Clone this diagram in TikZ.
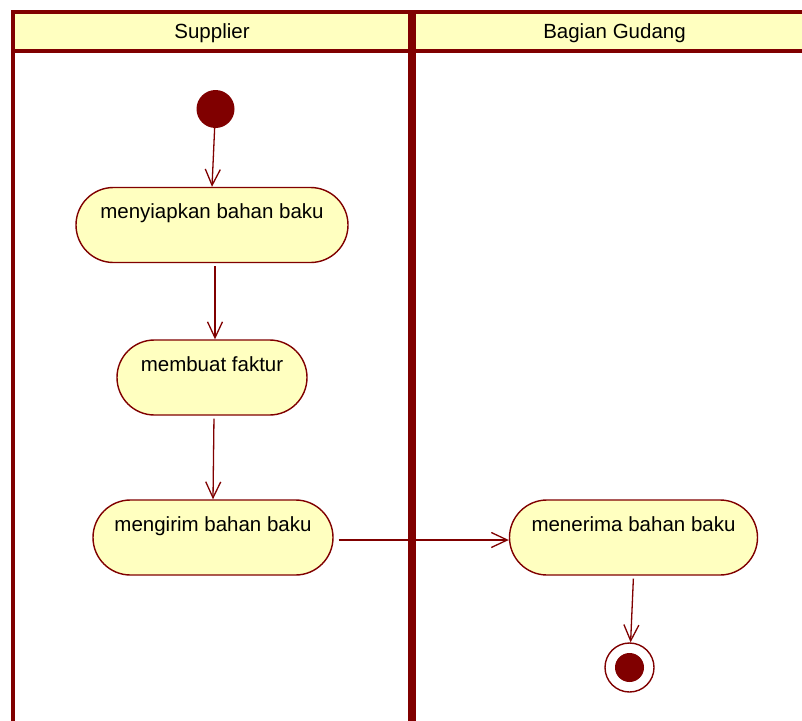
\documentclass[tikz,border=0pt]{standalone}
\usepackage{fontspec}
\setmainfont{Liberation Sans}
\usetikzlibrary{arrows.meta}
\definecolor{umlred}{HTML}{800000}
\definecolor{umlfill}{HTML}{FFFFC0}
\tikzset{
  lane/.style={draw=umlred, line width=4pt},
  lanehead/.style={draw=umlred, fill=umlfill, line width=4pt},
  headtext/.style={font=\fontsize{20.5}{24}\selectfont, inner sep=0pt},
  act/.style={draw=umlred, fill=umlfill, line width=1.4pt, rounded corners=37.5pt,
    inner xsep=0pt, inner ysep=0pt, text height=31pt, text depth=44pt,
    font=\fontsize{20.5}{24}\selectfont},
  startnode/.style={circle, fill=umlred, draw=none, minimum size=38pt, inner sep=0pt},
  endouter/.style={circle, draw=umlred, fill=white, line width=1.4pt, minimum size=49pt, inner sep=0pt},
  endinner/.style={circle, fill=umlred, minimum size=29pt, inner sep=0pt},
  flow/.style={draw=umlred, line width=1.3pt, -{Straight Barb[length=16pt,width=15pt,line width=1.3pt]}}
}
\begin{document}
\begin{tikzpicture}[x=1pt,y=-1pt]
\useasboundingbox (0,0) rectangle (802,720);
\clip (0,0) rectangle (802,720);
\fill[white] (0,0) rectangle (802,720);
% lanes
\draw[lane] (13,51.3) -- (13,730);
\draw[lane] (409.5,51.3) -- (409.5,730);
\draw[lane] (413.8,51.3) -- (413.8,730);
\draw[lanehead] (13,11.5) rectangle (409.5,51.3);
\draw[lanehead] (413.8,11.5) rectangle (830,51.3);
\node[headtext] (h1) at (212,33) {Supplier};
\node[headtext] (h2) at (614.5,33) {Bagian Gudang};
% nodes
\node[startnode] (start) at (215.5,109) {};
\node[act, minimum width=272pt] (a1) at (212,225) {menyiapkan bahan baku};
\node[act, minimum width=190pt] (a2) at (212,377.5) {membuat faktur};
\node[act, minimum width=240pt] (a3) at (213,537.5) {mengirim bahan baku};
\node[act, minimum width=248pt] (a4) at (633.5,537.5) {menerima bahan baku};
\node[endouter] (end) at (629.5,667.5) {};
\node[endinner] (endin) at (end) {};
% flows
\draw[flow] (start) -- (a1.north);
\draw[flow, shorten <=3pt] ([xshift=3pt]a1.south) -- ([xshift=3pt]a2.north);
\draw[flow, shorten <=3pt] ([xshift=2pt]a2.south) -- (a3.north);
\draw[flow, shorten <=5pt] ([yshift=-2.5pt]a3.east) -- ([yshift=-2.5pt]a4.west);
\draw[flow, shorten <=3pt] (a4.south) -- (end);
\end{tikzpicture}
\end{document}
